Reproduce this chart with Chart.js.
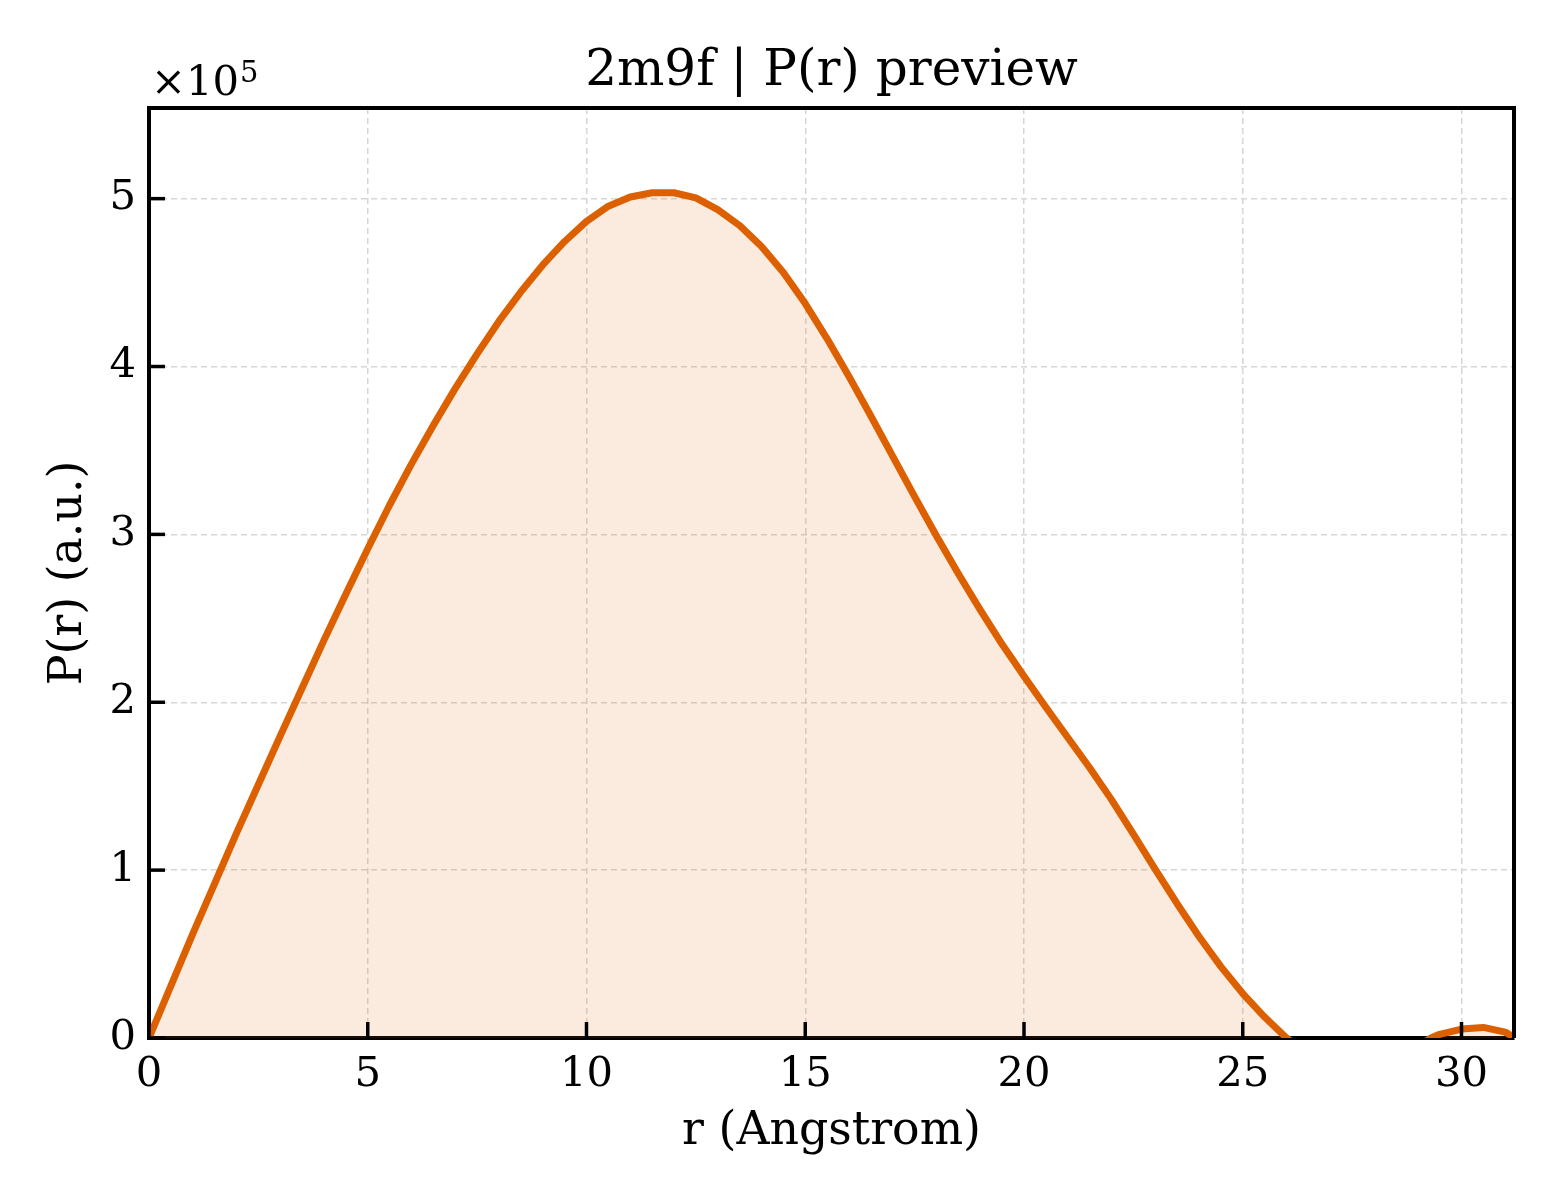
<!DOCTYPE html>
<html>
<head>
<meta charset="utf-8">
<title>2m9f | P(r) preview</title>
<script src="https://cdn.jsdelivr.net/npm/chart.js@4.4.1/dist/chart.umd.min.js"></script>
<style>
  html, body { margin: 0; padding: 0; background: #ffffff; }
  #wrap { width: 1560px; height: 1200px; }
</style>
</head>
<body>
<div id="wrap"><canvas id="pr" width="1560" height="1200"></canvas></div>
<script>
// r in Angstrom, P(r) in arbitrary units (read off the reference;
// the part below zero is cut off by the axis, so it is a rough guess)
const rValues = [
  0, 0.5, 1, 1.5, 2, 2.5, 3, 3.5, 4, 4.5,
  5, 5.5, 6, 6.5, 7, 7.5, 8, 8.5, 9, 9.5,
  10, 10.5, 11, 11.5, 12, 12.5, 13, 13.5, 14, 14.5,
  15, 15.5, 16, 16.5, 17, 17.5, 18, 18.5, 19, 19.5,
  20, 20.5, 21, 21.5, 22, 22.5, 23, 23.5, 24, 24.5,
  25, 25.5, 26, 26.5, 27, 27.5, 28, 28.5, 29, 29.3,
  29.5, 30, 30.5, 31, 31.2
];
const prValues = [
  0, 31000, 62000, 92000, 122000, 151000, 180000, 208500, 237000, 264500,
  291500, 317500, 342000, 365000, 387000, 407500, 427000, 444500, 460500, 474500,
  486500, 495500, 501000, 503500, 503500, 500500, 493500, 484000, 471500, 456000,
  437500, 416500, 394000, 370500, 346500, 322500, 299000, 276500, 255000, 234500,
  215500, 197000, 179000, 161000, 142000, 121500, 100500, 80000, 60500, 42500,
  26500, 12500, 0, -9000, -14000, -16000, -15000, -11000, -5000, 0,
  2200, 5300, 6300, 3500, 400
];

const xTicks = [0, 5, 10, 15, 20, 25, 30];
const yTicks = [0, 100000, 200000, 300000, 400000, 500000];

const chartTitle = '2m9f | P(r) preview';
const xLabel = 'r (Angstrom)';
const yLabel = 'P(r) (a.u.)';

const FONT = '"DejaVu Serif", serif';
const lineColor = '#dd6000';

// frame, inward tick marks and the texts matplotlib-style
const framePlugin = {
  id: 'framePlugin',
  afterDraw(chart) {
    const { ctx, chartArea: a, scales } = chart;
    ctx.save();
    ctx.strokeStyle = '#000000';
    ctx.lineWidth = 4;
    ctx.beginPath();
    ctx.moveTo(a.left, a.top);
    ctx.lineTo(a.right, a.top);
    ctx.lineTo(a.right, a.bottom);
    ctx.stroke();

    // inward ticks
    ctx.lineWidth = 3.5;
    xTicks.forEach(v => {
      const px = scales.x.getPixelForValue(v);
      ctx.beginPath();
      ctx.moveTo(px, a.bottom);
      ctx.lineTo(px, a.bottom - 16);
      ctx.stroke();
    });
    yTicks.forEach(v => {
      const py = scales.y.getPixelForValue(v);
      ctx.beginPath();
      ctx.moveTo(a.left, py);
      ctx.lineTo(a.left + 16, py);
      ctx.stroke();
    });

    ctx.fillStyle = '#000000';
    // title
    ctx.font = '50px ' + FONT;
    ctx.textAlign = 'center';
    ctx.textBaseline = 'alphabetic';
    ctx.fillText(chartTitle, (a.left + a.right) / 2, 85);

    // axis labels
    ctx.font = '45.8px ' + FONT;
    ctx.fillText(xLabel, (a.left + a.right) / 2, 1144);
    ctx.save();
    ctx.translate(81, (a.top + a.bottom) / 2);
    ctx.rotate(-Math.PI / 2);
    ctx.fillText(yLabel, 0, 0);
    ctx.restore();

    // offset text
    ctx.textAlign = 'left';
    ctx.font = '41.7px ' + FONT;
    ctx.fillText('\u00d710', 151, 95);
    const w = ctx.measureText('\u00d710').width;
    ctx.font = '29px ' + FONT;
    ctx.fillText('5', 151 + w + 1, 82);
    ctx.restore();
  }
};

const keepTicks = list => scale => {
  scale.ticks = list.map(v => ({ value: v }));
};

new Chart(document.getElementById('pr'), {
  type: 'line',
  data: {
    datasets: [{
      data: rValues.map((r, i) => ({ x: r, y: prValues[i] })),
      borderColor: lineColor,
      backgroundColor: 'rgba(221, 96, 0, 0.13)',
      borderWidth: 7,
      fill: 'origin',
      pointRadius: 0,
      tension: 0,
      borderJoinStyle: 'round',
      borderCapStyle: 'round'
    }]
  },
  options: {
    responsive: false,
    animation: false,
    devicePixelRatio: 1,
    layout: { padding: { left: 0, top: 108, right: 46, bottom: 0 } },
    plugins: {
      legend: { display: false },
      tooltip: { enabled: false },
      title: { display: false }
    },
    scales: {
      x: {
        type: 'linear',
        min: 0,
        max: 31.2,
        afterBuildTicks: keepTicks(xTicks),
        afterFit: s => { s.height = 162; },
        grid: { color: '#d6d6d6', lineWidth: 1.5, drawTicks: false },
        border: { display: true, color: '#000000', width: 4, dash: [6, 4] },
        ticks: {
          color: '#000000',
          padding: 12,
          maxRotation: 0,
          font: { family: FONT, size: 41.7 },
          callback: v => String(v)
        }
      },
      y: {
        type: 'linear',
        min: 0,
        max: 554000,
        afterBuildTicks: keepTicks(yTicks),
        afterFit: s => { s.width = 149; },
        grid: { color: '#d6d6d6', lineWidth: 1.5, drawTicks: false },
        border: { display: true, color: '#000000', width: 4, dash: [6, 4] },
        ticks: {
          color: '#000000',
          padding: 13,
          font: { family: FONT, size: 41.7 },
          callback: v => String(Math.round(v / 100000))
        }
      }
    }
  },
  plugins: [framePlugin]
});
</script>
</body>
</html>
